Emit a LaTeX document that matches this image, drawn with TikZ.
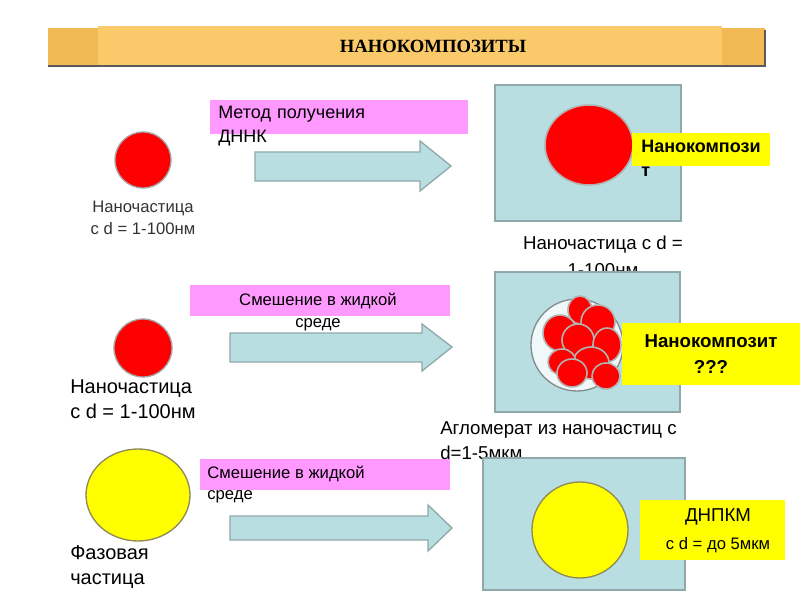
\documentclass[tikz,border=0pt]{standalone}
\usepackage{fontspec}
\setmainfont{Liberation Sans}
\newfontfamily\serifb{Liberation Serif}
\definecolor{lblue}{HTML}{B9DEE1}
\definecolor{bord}{HTML}{8FA8AA}
\definecolor{pinkb}{HTML}{FF99FF}
\definecolor{orng}{HTML}{F9C96A}
\definecolor{orngd}{HTML}{F2BA55}
\definecolor{redf}{HTML}{FF0000}
\definecolor{yel}{HTML}{FFFF00}
\begin{document}
\begin{tikzpicture}[x=0.75pt,y=-0.75pt,
  lbox/.style={draw=bord,fill=lblue,line width=1pt},
  pbox/.style={fill=pinkb},
  ybox/.style={fill=yel},
  arr/.style={draw=bord,fill=lblue,line width=1pt},
  txt/.style={font=\fontsize{12.5pt}{16pt}\selectfont,inner sep=0pt},
  btxt/.style={font=\fontsize{13.5pt}{17pt}\selectfont\bfseries,inner sep=0pt},
  blob/.style={fill=redf,draw=gray!60,line width=1.2pt}]
\useasboundingbox (0,0) rectangle (800,600);
\fill[white] (0,0) rectangle (800,600);
% title
\fill[orngd] (48,28) rectangle (765,66);
\fill[orng] (98,26) rectangle (722,66);
\draw[gray!70!black,line width=1pt] (765,30) -- (765,66) -- (48,66);
\node[font=\serifb\fontsize{14pt}{16pt}\selectfont\bfseries] (title) at (433,46) {НАНОКОМПОЗИТЫ};
% row 1
\draw[fill=redf,draw=gray!70,line width=1pt] (143,160) circle (28);
\node[txt,align=center,text=black!80] (l1) at (143,218) {Наночастица\\с d = 1-100нм};
\fill[pbox] (210,100) rectangle (468,134);
\node[txt,anchor=north west,align=left,text width=240,font=\fontsize{13.5pt}{18pt}\selectfont] (m1) at (218,106) {Метод получения\\ДННК};
\draw[arr] (255,152) -- (420,152) -- (420,141) -- (451,166) -- (420,191) -- (420,181) -- (255,181) -- cycle;
\draw[lbox] (495,85) rectangle (681,221);
\draw[fill=redf,draw=gray!60,line width=1.2pt] (589,145) ellipse [x radius=44,y radius=40];
\fill[ybox] (632,133) rectangle (770,166);
\node[btxt,anchor=north west] (n1) at (641,140) {Нанокомпози};
\node[btxt,anchor=north west] (n1b) at (641,167) {т};
\node[txt,align=center,font=\fontsize{14pt}{20pt}\selectfont] (r1) at (603,256) {Наночастица  с d =\\1-100нм};
% row 2
\draw[fill=redf,draw=gray!70,line width=1pt] (143,348) circle (29);
\node[txt,anchor=north west,align=left,font=\fontsize{15pt}{19pt}\selectfont] (l2) at (70,379) {Наночастица\\с  d = 1-100нм};
\fill[pbox] (190,285) rectangle (450,316);
\node[txt,align=center] (m2) at (318,312) {Смешение в жидкой\\среде};
\draw[arr] (230,333) -- (422,333) -- (422,324) -- (452,347) -- (422,371) -- (422,362) -- (230,362) -- cycle;
\draw[lbox] (495,272) rectangle (680,412);
\draw[fill=white!80!lblue,draw=gray!70!bord,line width=1pt] (577,345) circle (46);
\foreach \px/\py/\rx/\ry in {580/310/12/14, 560/333/17/18, 598/322/17/17, 578/340/16/16, 607/345/14/17, 591/363/18/16, 562/362/14/13, 606/376/14/13, 572/373/15/14}
  \draw[blob] (\px,\py) ellipse [x radius=\rx,y radius=\ry];
\fill[ybox] (622,323) rectangle (800,385);
\node[btxt,align=center,font=\fontsize{14pt}{20pt}\selectfont\bfseries] (n2) at (711,354) {Нанокомпозит\\???};
\node[txt,anchor=north west,align=left,font=\fontsize{14pt}{19pt}\selectfont] (r2) at (440,421) {Агломерат из наночастиц с\\d=1-5мкм};
% row 3
\draw[fill=yel,draw=gray!60!olive,line width=1pt] (138,495) ellipse [x radius=52,y radius=46];
\node[txt,anchor=north west,align=left,font=\fontsize{15pt}{19pt}\selectfont] (l3) at (70,545) {Фазовая\\частица};
\fill[pbox] (200,459) rectangle (450,490);
\node[txt,anchor=north west,align=left] (m3) at (207,466) {Смешение в жидкой\\среде};
\draw[arr] (230,516) -- (428,516) -- (428,505) -- (452,528) -- (428,551) -- (428,540) -- (230,540) -- cycle;
\draw[lbox] (483,458) rectangle (685,590);
\draw[fill=yel,draw=gray!60!olive,line width=1pt] (580,530) circle (48);
\fill[ybox] (640,500) rectangle (785,560);
\node[txt,font=\fontsize{14pt}{16pt}\selectfont] (n3) at (718,517) {ДНПКМ};
\node[txt] (n3b) at (718,545) {с d = до 5мкм};
\end{tikzpicture}
\end{document}
